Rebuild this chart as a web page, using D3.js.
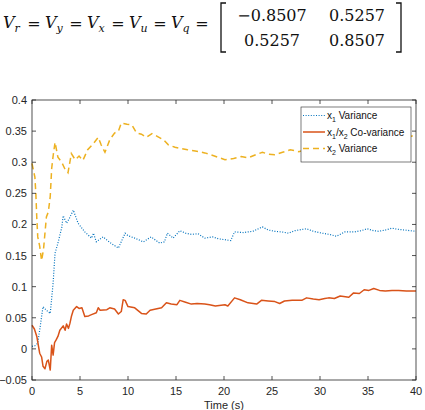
<!DOCTYPE html>
<html>
<head>
<meta charset="utf-8">
<script src="https://cdn.jsdelivr.net/npm/d3@7"></script>
<style>
  body { margin: 0; background: #fff; }
  svg { display: block; }
</style>
</head>
<body>
<div id="chart"></div>
<script>
// values
var x1VarT = [0,0.3,0.6,0.8,1.0,1.15,1.5,1.9,2.2,2.4,2.7,3.1,3.25,3.6,3.9,4.3,4.8,5.5,6.2,6.4,6.7,7.4,8.2,9.0,9.7,10.0,10.7,11.6,12.4,13.3,13.8,14.1,14.7,15.4,16.0,16.6,17.3,18.0,18.8,19.4,20.3,20.7,21.1,22.0,23.0,24.0,24.6,25.3,26.0,26.7,27.4,28.1,28.6,29.3,30.2,31.0,31.7,32.6,33.6,34.3,34.9,35.6,36.1,36.8,37.5,38.2,38.8,39.4,40];
var x1Var  = [0.004,0.005,0.009,0.03,0.052,0.068,0.062,0.057,0.106,0.154,0.17,0.195,0.214,0.202,0.21,0.223,0.202,0.188,0.178,0.186,0.172,0.18,0.17,0.162,0.186,0.182,0.178,0.172,0.18,0.17,0.172,0.186,0.178,0.19,0.186,0.184,0.185,0.178,0.18,0.177,0.175,0.174,0.188,0.187,0.189,0.196,0.191,0.189,0.188,0.186,0.19,0.192,0.193,0.189,0.186,0.184,0.181,0.188,0.188,0.19,0.193,0.19,0.189,0.191,0.194,0.192,0.191,0.19,0.189];

var covT = [0,0.25,0.5,0.8,1.0,1.15,1.35,1.55,1.7,1.9,2.05,2.2,2.35,2.5,2.7,2.9,3.25,3.45,3.6,3.8,3.95,4.1,4.3,4.65,4.9,5.2,5.5,5.9,6.2,6.7,6.9,7.1,7.8,8.1,8.6,9.0,9.3,9.5,9.7,10.0,10.7,11.4,11.9,12.3,13.5,14.0,14.5,15.1,15.4,16.0,16.6,17.2,18.0,18.5,19.1,20.1,20.4,21.1,21.7,22.5,23.4,23.9,24.6,25.3,25.8,26.3,27.1,28.1,28.6,29.3,29.9,30.5,30.9,31.5,32.1,33.0,33.5,34.1,34.6,35.1,35.6,36.2,36.8,37.5,38.2,39.0,40];
var cov  = [0.038,0.032,0.02,-0.007,-0.013,-0.028,-0.032,-0.02,-0.018,-0.034,0.006,-0.01,0.01,0.014,0.02,0.03,0.037,0.03,0.04,0.033,0.041,0.052,0.062,0.068,0.065,0.066,0.052,0.053,0.055,0.058,0.066,0.062,0.063,0.066,0.064,0.056,0.06,0.079,0.078,0.068,0.066,0.057,0.056,0.062,0.066,0.074,0.072,0.071,0.078,0.075,0.072,0.073,0.072,0.071,0.069,0.071,0.069,0.082,0.079,0.074,0.072,0.078,0.077,0.076,0.073,0.077,0.078,0.078,0.082,0.08,0.079,0.081,0.082,0.081,0.085,0.083,0.09,0.089,0.095,0.094,0.097,0.094,0.093,0.094,0.094,0.093,0.093];

var x2VarT = [0,0.3,0.4,0.5,0.6,0.8,1.0,1.2,1.35,1.5,1.7,1.9,2.05,2.2,2.4,2.7,3.1,3.4,3.75,4.1,4.5,4.9,5.3,5.8,6.4,6.9,7.2,7.6,8.1,8.6,9.0,9.3,9.9,10.4,10.9,11.4,11.9,12.5,13.0,13.7,14.2,14.9,15.5,16.2,17.0,18.0,19.0,20.1,21.0,21.8,22.5,23.3,24.0,24.6,25.3,26.1,26.9,27.8,28.5,31,34,37,39.6,40];
var x2Var  = [0.298,0.276,0.25,0.21,0.18,0.165,0.142,0.16,0.186,0.212,0.22,0.245,0.29,0.31,0.332,0.308,0.3,0.29,0.283,0.314,0.304,0.31,0.303,0.32,0.33,0.34,0.328,0.316,0.336,0.347,0.35,0.363,0.361,0.36,0.347,0.345,0.34,0.346,0.342,0.336,0.328,0.324,0.322,0.32,0.318,0.315,0.31,0.304,0.306,0.309,0.307,0.312,0.316,0.313,0.312,0.316,0.32,0.317,0.32,0.325,0.33,0.336,0.342,0.342];

var xTicks = [0,5,10,15,20,25,30,35,40];
var yTicks = [-0.05,0,0.05,0.1,0.15,0.2,0.25,0.3,0.35,0.4];
var matrixRows = [["\u22120.8507","0.5257"],["0.5257","0.8507"]];
var vSubs = ["r","y","x","u","q"];

var W = 425, H = 410;
var m = {left: 32, right: 416, top: 100, bottom: 380};
var axisColor = '#262626';
var fontSans = '"Liberation Sans", Arial, Helvetica, sans-serif';
var fontSerif = '"DejaVu Serif", serif';

var svg = d3.select('#chart').append('svg').attr('width', W).attr('height', H);

// equation above the chart
var eq = svg.append('g');
vSubs.forEach(function(s, i){
    var x0 = 3 + 42*i;
    var t = eq.append('text').attr('x', x0).attr('y', 28)
        .attr('font-family', fontSerif).attr('font-style', 'italic').attr('font-size', 16).attr('fill', '#111');
    t.append('tspan').text('V');
    t.append('tspan').attr('font-size', 11).attr('dy', 4).text(s);
    eq.append('text').attr('x', x0 + 31).attr('y', 29).attr('text-anchor', 'middle')
        .attr('font-family', fontSerif).attr('font-size', 16).attr('fill', '#111').text('=');
});
eq.append('path').attr('d', 'M226,3 H221 V52 H226').attr('fill', 'none').attr('stroke', '#111').attr('stroke-width', 1.3);
eq.append('path').attr('d', 'M396,3 H401 V52 H396').attr('fill', 'none').attr('stroke', '#111').attr('stroke-width', 1.3);
matrixRows.forEach(function(row, r){
    row.forEach(function(v, c){
        eq.append('text').attr('x', c == 0 ? 272 : 357).attr('y', 21 + r*25).attr('text-anchor', 'middle')
            .attr('font-family', fontSerif).attr('font-size', 16).attr('fill', '#111').text(v);
    });
});

var x = d3.scaleLinear().domain([0, 40]).range([m.left, m.right]);
var y = d3.scaleLinear().domain([-0.05, 0.4]).range([m.bottom, m.top]);

var g = svg.append('g');

var line = function(ts, vs){
    return d3.line().x(function(d, i){ return x(ts[i]); }).y(function(d){ return y(d); })(vs);
};

g.append('path').attr('d', line(x1VarT, x1Var)).attr('fill', 'none')
    .attr('stroke', '#0072BD').attr('stroke-width', 1.2).attr('stroke-dasharray', '1,1.6');
g.append('path').attr('d', line(covT, cov)).attr('fill', 'none')
    .attr('stroke', '#D95319').attr('stroke-width', 1.5).attr('stroke-linejoin', 'round');
g.append('path').attr('d', line(x2VarT, x2Var)).attr('fill', 'none')
    .attr('stroke', '#EDB120').attr('stroke-width', 1.5).attr('stroke-dasharray', '6,4');

// axes, MATLAB-style box with inward ticks
var tl = 4;
var ax = svg.append('g').attr('font-family', fontSans).attr('font-size', 11).attr('fill', axisColor);
ax.append('rect').attr('x', m.left).attr('y', m.top).attr('width', m.right - m.left).attr('height', m.bottom - m.top)
    .attr('fill', 'none').attr('stroke', axisColor).attr('stroke-width', 0.8);
xTicks.forEach(function(t){
    ax.append('line').attr('x1', x(t)).attr('x2', x(t)).attr('y1', m.bottom).attr('y2', m.bottom - tl).attr('stroke', axisColor).attr('stroke-width', 0.8);
    ax.append('line').attr('x1', x(t)).attr('x2', x(t)).attr('y1', m.top).attr('y2', m.top + tl).attr('stroke', axisColor).attr('stroke-width', 0.8);
    ax.append('text').attr('x', x(t)).attr('y', m.bottom + 15).attr('text-anchor', 'middle').text(t);
});
yTicks.forEach(function(t){
    ax.append('line').attr('x1', m.left).attr('x2', m.left + tl).attr('y1', y(t)).attr('y2', y(t)).attr('stroke', axisColor).attr('stroke-width', 0.8);
    ax.append('line').attr('x1', m.right).attr('x2', m.right - tl).attr('y1', y(t)).attr('y2', y(t)).attr('stroke', axisColor).attr('stroke-width', 0.8);
    ax.append('text').attr('x', m.left - 5).attr('y', y(t) + 4).attr('text-anchor', 'end').text(d3.format('')(t));
});
ax.append('text').attr('x', (m.left + m.right)/2).attr('y', 409).attr('text-anchor', 'middle').text('Time (s)');

// legend
var lg = svg.append('g').attr('font-family', fontSans).attr('font-size', 10).attr('fill', '#111');
lg.append('rect').attr('x', 301).attr('y', 107).attr('width', 110).attr('height', 55)
    .attr('fill', '#fff').attr('stroke', axisColor).attr('stroke-width', 0.6);
var items = [
    {parts: [['x'], ['1', 'sub'], [' Variance']], color: '#0072BD', dash: '1,1.6', w: 1.2},
    {parts: [['x'], ['1', 'sub'], ['/x'], ['2', 'sub'], [' Co-variance']], color: '#D95319', dash: null, w: 1.5},
    {parts: [['x'], ['2', 'sub'], [' Variance']], color: '#EDB120', dash: '6,4', w: 1.5}
];
items.forEach(function(it, i){
    var yy = 115.5 + i*16.5;
    lg.append('line').attr('x1', 303).attr('x2', 325).attr('y1', yy).attr('y2', yy)
        .attr('stroke', it.color).attr('stroke-width', it.w).attr('stroke-dasharray', it.dash);
    var t = lg.append('text').attr('x', 327).attr('y', yy + 3.5);
    var sub = false;
    it.parts.forEach(function(p){
        var ts = t.append('tspan').text(p[0]);
        if (p[1] == 'sub') { ts.attr('font-size', 7).attr('dy', 3); sub = true; }
        else if (sub) { ts.attr('dy', -3); sub = false; }
    });
});
</script>
</body>
</html>
